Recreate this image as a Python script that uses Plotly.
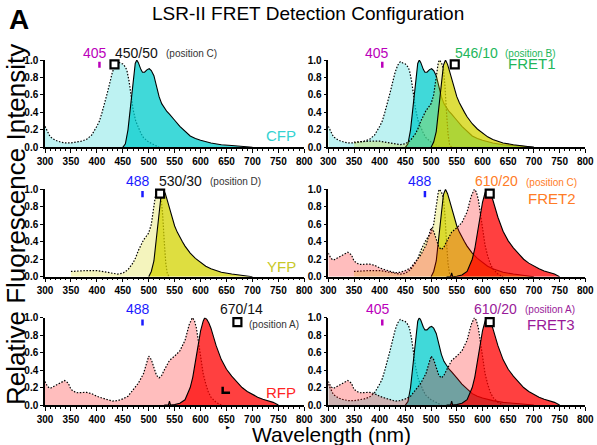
import plotly.graph_objects as go

# ---------------- spectra (wavelength nm, relative intensity) ----------------
cfp_ex_wl = [300, 305, 310, 320, 330, 340, 350, 360, 370, 380, 390, 400, 405, 410, 415, 420, 425, 430, 435, 438,
             440, 445, 450, 455, 458, 462, 466, 470, 475, 480, 485, 490, 500, 510, 520]
cfp_ex_val = [0.24, 0.17, 0.12, 0.08, 0.06, 0.05, 0.05, 0.06, 0.07, 0.09, 0.14, 0.24, 0.30, 0.40, 0.50, 0.62, 0.74, 0.86, 0.94, 0.97,
              0.98, 0.965, 0.955, 0.92, 0.88, 0.76, 0.60, 0.43, 0.30, 0.22, 0.16, 0.11, 0.06, 0.03, 0.0]

cfp_em_wl = [450, 455, 460, 465, 470, 474, 477, 480, 485, 488, 492, 497, 501, 505, 510, 515, 520, 525, 530, 535,
             540, 545, 550, 560, 570, 580, 590, 600, 620, 640, 660, 680, 700]
cfp_em_val = [0.0, 0.04, 0.2, 0.5, 0.8, 0.96, 1.0, 0.97, 0.89, 0.86, 0.86, 0.89, 0.9, 0.88, 0.82, 0.7, 0.58, 0.5, 0.45, 0.41,
              0.38, 0.35, 0.31, 0.24, 0.18, 0.13, 0.1, 0.08, 0.05, 0.03, 0.02, 0.01, 0.0]

yfp_ex_wl = [350, 360, 380, 400, 420, 440, 450, 460, 470, 475, 480, 485, 490, 495, 500, 505, 510, 514, 516, 520,
             524, 527, 530, 533, 536, 540]
yfp_ex_val = [0.06, 0.065, 0.07, 0.07, 0.05, 0.03, 0.04, 0.08, 0.16, 0.22, 0.30, 0.37, 0.42, 0.46, 0.50, 0.60, 0.82, 0.97, 1.0, 0.97,
              0.9, 0.7, 0.4, 0.15, 0.03, 0.0]

yfp_em_wl = [500, 505, 510, 515, 520, 524, 528, 532, 536, 540, 545, 550, 555, 560, 565, 570, 575, 580, 590, 600,
             610, 620, 630, 640, 660, 680, 700]
yfp_em_val = [0.0, 0.06, 0.18, 0.45, 0.75, 0.94, 1.0, 0.95, 0.87, 0.78, 0.67, 0.58, 0.51, 0.45, 0.4, 0.35, 0.31, 0.27, 0.21, 0.16,
              0.12, 0.09, 0.07, 0.05, 0.03, 0.015, 0.0]

rfp_ex_wl = [300, 305, 310, 320, 330, 338, 345, 350, 360, 370, 380, 390, 400, 410, 420, 430, 440, 450, 460, 470,
             480, 490, 495, 500, 505, 510, 515, 520, 525, 530, 540, 550, 560, 570, 578, 584, 588, 592, 596, 600,
             605, 610, 615, 620, 630, 640]
rfp_ex_val = [0.27, 0.21, 0.19, 0.22, 0.25, 0.28, 0.25, 0.18, 0.14, 0.14, 0.145, 0.13, 0.1, 0.08, 0.06, 0.045, 0.05, 0.07, 0.1, 0.17,
              0.25, 0.36, 0.47, 0.56, 0.52, 0.42, 0.34, 0.31, 0.34, 0.4, 0.51, 0.56, 0.62, 0.74, 0.92, 1.0, 0.97, 0.88, 0.72, 0.52,
              0.36, 0.24, 0.15, 0.09, 0.03, 0.0]

rfp_em_wl = [530, 538, 540, 542, 550, 560, 570, 580, 585, 590, 595, 600, 605, 608, 612, 616, 620, 625, 630, 640,
             650, 660, 670, 680, 690, 700, 710, 720, 730, 740, 750]
rfp_em_val = [0.0, 0.0, 0.045, 0.0, 0.005, 0.02, 0.06, 0.2, 0.32, 0.5, 0.7, 0.85, 0.96, 1.0, 0.98, 0.94, 0.88, 0.78, 0.68, 0.52,
              0.41, 0.33, 0.26, 0.2, 0.155, 0.12, 0.09, 0.065, 0.045, 0.03, 0.0]

# ---------------- panel configuration ----------------
panel_names = ["CFP", "FRET1", "YFP", "FRET2", "RFP", "FRET3"]
panel_fluors = [["CFP"], ["CFP", "YFP"], ["YFP"], ["YFP", "RFP"], ["RFP"], ["CFP", "RFP"]]
panel_lasers = [405, 405, 488, 488, 488, 405]
panel_filters = [434, 546, 522, 614, 671, 614]
filter_names = ["450/50", "546/10", "530/30", "610/20", "670/14", "610/20"]
filter_positions = ["(position C)", "(position B)", "(position D)", "(position C)", "(position A)", "(position A)"]

spectra = {
    "CFP": (cfp_ex_wl, cfp_ex_val, cfp_em_wl, cfp_em_val),
    "YFP": (yfp_ex_wl, yfp_ex_val, yfp_em_wl, yfp_em_val),
    "RFP": (rfp_ex_wl, rfp_ex_val, rfp_em_wl, rfp_em_val),
}
base_rgb = {"CFP": (0, 204, 204), "YFP": (211, 211, 0), "RFP": (255, 0, 0)}
ex_alpha, em_alpha = 0.26, 0.75

label_colors = {"CFP": "#33d2d2", "FRET1": "#22b65a", "YFP": "#c8c828",
                "FRET2": "#ff7c26", "RFP": "#ff2626", "FRET3": "#991a99"}
filter_text_colors = ["#111111", "#22b65a", "#111111", "#ff7c26", "#111111", "#991a99"]
pos_text_colors = ["#333333", "#22b65a", "#333333", "#ff7c26", "#333333", "#991a99"]
laser_colors = {405: "#bb00bb", 488: "#1a1aff"}

# text placement (data coordinates of each panel)
laser_label_x = [397, 395, 479, 478, 479, 396]
laser_label_y = [1.08, 1.08, 1.10, 1.09, 1.10, 1.10]
fname_x = [431, 542.6, 516, 581.5, 633.7, 579.4]
fname_y = [1.08, 1.08, 1.10, 1.09, 1.10, 1.10]
fpos_x = [529.5, 640, 614.5, 680.7, 689.6, 678.8]
fpos_y = [1.07, 1.07, 1.09, 1.08, 0.92, 1.09]
name_x = [788, 747, 788, 785.8, 788, 783.9]
name_y = [0.13, 0.96, 0.12, 0.90, 0.145, 0.92]

# ---------------- layout geometry ----------------
W, H = 597, 445
X_RANGE = [300, 800]
Y_RANGE = [0, 1]
col_px = [(45, 304.3), (328.3, 585.3)]
row_px = [(60, 147.3), (189.3, 276.7), (317.7, 405)]

FONT = "Liberation Sans, Arial, sans-serif"
fig = go.Figure()
annotations = []


def rgba(rgb, a):
    return "rgba(%d,%d,%d,%.2f)" % (rgb[0], rgb[1], rgb[2], a)


def to_paper(xdom, ydom, xv, yv):
    px = xdom[0] + (xv - X_RANGE[0]) / (X_RANGE[1] - X_RANGE[0]) * (xdom[1] - xdom[0])
    py = ydom[0] + (yv - Y_RANGE[0]) / (Y_RANGE[1] - Y_RANGE[0]) * (ydom[1] - ydom[0])
    return px, py


for i in range(6):
    r, c = divmod(i, 2)
    sfx = "" if i == 0 else str(i + 1)
    xa, ya = "x" + sfx, "y" + sfx
    for fl in panel_fluors[i]:
        exw, exv, emw, emv = spectra[fl]
        fig.add_trace(go.Scatter(x=exw, y=exv, mode="lines", fill="tozeroy",
                                 fillcolor=rgba(base_rgb[fl], ex_alpha),
                                 line=dict(color="black", width=1.2, dash="1.5px,1.6px"),
                                 xaxis=xa, yaxis=ya, showlegend=False, cliponaxis=False,
                                 hoverinfo="skip"))
        fig.add_trace(go.Scatter(x=emw, y=emv, mode="lines", fill="tozeroy",
                                 fillcolor=rgba(base_rgb[fl], em_alpha),
                                 line=dict(color="black", width=1.1),
                                 xaxis=xa, yaxis=ya, showlegend=False, cliponaxis=False,
                                 hoverinfo="skip"))
    lz = panel_lasers[i]
    fig.add_trace(go.Scatter(x=[lz, lz], y=[0.91, 0.98], mode="lines",
                             line=dict(color=laser_colors[lz], width=2.5),
                             xaxis=xa, yaxis=ya, showlegend=False, cliponaxis=False))
    fig.add_trace(go.Scatter(x=[panel_filters[i]], y=[0.95], mode="markers",
                             marker=dict(symbol="square", size=8, color="white",
                                         line=dict(color="black", width=2.2)),
                             xaxis=xa, yaxis=ya, showlegend=False, cliponaxis=False))
    fig.add_trace(go.Scatter(x=[308], y=[1.21], mode="markers",
                             marker=dict(symbol="square-open", size=7, color="black",
                                         line=dict(color="black", width=1.2)),
                             xaxis=xa, yaxis=ya, showlegend=False, cliponaxis=False))

    x0, x1 = col_px[c]
    y0, y1 = row_px[r]
    xdom = [x0 / W, x1 / W]
    ydom = [1 - y1 / H, 1 - y0 / H]
    fig.update_layout(**{
        "xaxis" + sfx: dict(domain=xdom, range=X_RANGE, anchor=ya, automargin=False,
                            showline=True, linecolor="black", linewidth=1.5,
                            ticks="outside", ticklen=4, tickwidth=1.3, tickcolor="black",
                            tick0=300, dtick=50, showgrid=False, zeroline=False,
                            tickfont=dict(family=FONT, size=10, color="black", weight="bold"),
                            minor=dict(dtick=10, ticks="outside", ticklen=2, tickwidth=1,
                                       tickcolor="black", showgrid=False)),
        "yaxis" + sfx: dict(domain=ydom, range=Y_RANGE, anchor=xa, automargin=False,
                            showline=True, linecolor="black", linewidth=1.5,
                            ticks="outside", ticklen=3, tickwidth=1.3, tickcolor="black",
                            tick0=0, dtick=0.2, tickformat=".1f", showgrid=False, zeroline=False,
                            tickfont=dict(family=FONT, size=10, color="black", weight="bold")),
    })

    def ann(xv, yv, text, anchor, size, color):
        px, py = to_paper(xdom, ydom, xv, yv)
        return dict(x=px, y=py, xref="paper", yref="paper", text=text, showarrow=False,
                    xanchor=anchor, yanchor="middle", font=dict(family=FONT, size=size, color=color))

    annotations += [
        ann(laser_label_x[i], laser_label_y[i], str(lz), "center", 14, laser_colors[lz]),
        ann(fname_x[i], fname_y[i], filter_names[i], "left", 14, filter_text_colors[i]),
        ann(fpos_x[i], fpos_y[i], filter_positions[i], "left", 10, pos_text_colors[i]),
        ann(name_x[i], name_y[i], panel_names[i], "right", 15, label_colors[panel_names[i]]),
    ]

annotations += [
    dict(x=308 / W, y=1 - 14 / H, xref="paper", yref="paper", showarrow=False,
         text="LSR-II FRET Detection Configuration", xanchor="center", yanchor="middle",
         font=dict(family=FONT, size=19, color="black")),
    dict(x=19 / W, y=1 - 19 / H, xref="paper", yref="paper", showarrow=False,
         text="<b>A</b>", xanchor="center", yanchor="middle",
         font=dict(family=FONT, size=28, color="black")),
    dict(x=16 / W, y=1 - 225 / H, xref="paper", yref="paper", showarrow=False,
         text="Relative Fluorescence Intensity", textangle=-90, xanchor="center", yanchor="middle",
         font=dict(family=FONT, size=26, color="black")),
    dict(x=331 / W, y=1 - 434 / H, xref="paper", yref="paper", showarrow=False,
         text="Wavelength (nm)", xanchor="center", yanchor="middle",
         font=dict(family=FONT, size=21, color="black")),
    dict(x=13 / W, y=1 - 386 / H, xref="paper", yref="paper", showarrow=False,
         text="▲", font=dict(family=FONT, size=5, color="black")),
    dict(x=228 / W, y=1 - 432 / H, xref="paper", yref="paper", showarrow=False,
         text="▶", font=dict(family=FONT, size=5, color="black")),
]

fig.update_layout(
    width=W, height=H, margin=dict(l=0, r=0, t=0, b=0, autoexpand=False),
    paper_bgcolor="white", plot_bgcolor="white",
    annotations=annotations,
    shapes=[dict(type="path", xref="x5", yref="y5",
                 path="M 642.6,0.21 L 642.6,0.14 L 656.8,0.14",
                 line=dict(color="black", width=2.5))],
)

fig.write_html("out.html", config={"displayModeBar": False},
               post_script="document.body.style.margin='0';document.body.style.padding='0';"
                           "document.documentElement.style.margin='0';")
